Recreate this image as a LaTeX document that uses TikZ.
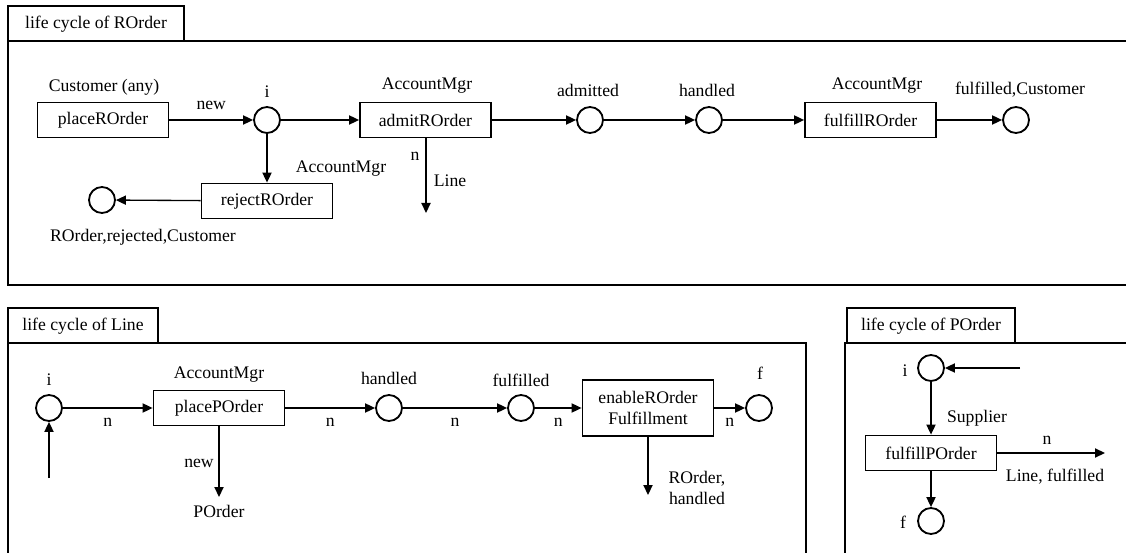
\documentclass[tikz,border=0pt]{standalone}
\usepackage{fontspec}
\setmainfont{Liberation Serif}
\usetikzlibrary{arrows.meta}
\begin{document}
\begin{tikzpicture}[x=0.6pt,y=-0.6pt,
  every node/.style={font=\fontsize{10.6}{12.5}\selectfont, inner sep=0pt},
  frame/.style={draw, line width=1.1pt},
  trans/.style={draw, line width=1.1pt, minimum width=78.6pt, minimum height=21pt, fill=white},
  place/.style={draw, circle, line width=1.1pt, minimum size=15.6pt, fill=white},
  arc/.style={line width=0.8pt, -{Triangle[length=6pt,width=5.5pt]}},
  lbl/.style={}]
\useasboundingbox (0,0) rectangle (1126,553);
\clip (0,0) rectangle (1126,553);

% ---------- life cycle of ROrder ----------
\draw[frame] (8,41) rectangle (1150,285);
\draw[frame] (8,6) rectangle (184,41);
\node (t1) at (96,24) {life cycle of ROrder};

\node[trans] (placeR) at (103,120) {placeROrder};
\node (custany) at (104,87) {Customer (any)};
\node[place] (ri) at (267,120) {};
\node (rilbl) at (267,92) {i};
\node[trans] (admit) at (425.5,120) {admitROrder};
\node (am1) at (427,86) {AccountMgr};
\node[place] (radm) at (590,120) {};
\node (radml) at (588,90) {admitted};
\node[place] (rhand) at (709,120) {};
\node (rhandl) at (707,90) {handled};
\node[trans] (fulR) at (870.5,120) {fulfillROrder};
\node (am2) at (877,86) {AccountMgr};
\node[place] (rful) at (1016,120) {};
\node (rfull) at (1020,90) {fulfilled,Customer};
\node[trans] (reject) at (267,201) {rejectROrder};
\node (am3) at (341,169) {AccountMgr};
\node[place] (rrej) at (102,200) {};
\node (rrejl) at (143,237) {ROrder,rejected,Customer};
\coordinate (lineout) at (426,213);

\draw[arc] (placeR) -- node[above=5.5pt] (newl) {new} (ri);
\draw[arc] (ri) -- (admit);
\draw[arc] (admit) -- (radm);
\draw[arc] (radm) -- (rhand);
\draw[arc] (rhand) -- (fulR);
\draw[arc] (fulR) -- (rful);
\draw[arc] (ri) -- (reject);
\draw[arc] (reject) -- (rrej);
\draw[arc] (admit.south -| lineout) -- (lineout);
\node (nl1) at (415,156) {n};
\node (linel) at (450,181) {Line};

% ---------- life cycle of Line ----------
\draw[frame] (8,343) rectangle (806,600);
\draw[frame] (8,308) rectangle (158,343);
\node (t2) at (83,326) {life cycle of Line};

\node[place] (li) at (49,408) {};
\node (lil) at (49,380) {i};
\coordinate (lin) at (49,478);
\node[trans] (placeP) at (219,408) {placePOrder};
\node (am4) at (219,375) {AccountMgr};
\coordinate (pout) at (219,497);
\node (newl2) at (199,463) {new};
\node (porderl) at (219,511) {POrder};
\node[place] (lh) at (389,408) {};
\node (lhl) at (389,378) {handled};
\node[place] (lfu) at (521,408) {};
\node (lful) at (521,380) {fulfilled};
\node[trans, minimum height=33.6pt, align=center] (enable) at (648,408) {enableROrder\\Fulfillment};
\coordinate (eout) at (648,495);
\node[align=center] (rohl) at (697,488) {ROrder,\\handled};
\node[place] (lf) at (759,408) {};
\node (lfl) at (760,373) {f};

\draw[arc] (lin) -- (li);
\draw[arc] (li) -- node[below=6pt] (n1) {n} (placeP);
\draw[arc] (placeP) -- (pout);
\draw[arc] (placeP) -- node[below=6pt] (n2) {n} (lh);
\draw[arc] (lh) -- node[below=6pt] (n3) {n} (lfu);
\draw[arc] (lfu) -- node[below=6pt] (n4) {n} (enable);
\draw[arc] (enable) -- (eout);
\draw[arc] (enable) -- node[below=6pt] (n5) {n} (lf);

% ---------- life cycle of POrder ----------
\draw[frame] (845,343) rectangle (1150,600);
\draw[frame] (847,308) rectangle (1015,343);
\node (t3) at (931,326) {life cycle of POrder};

\node[place] (pi) at (931,368) {};
\node (pil) at (905,371) {i};
\coordinate (pin) at (1020,368);
\node[trans] (fulP) at (931,453) {fulfillPOrder};
\node (supl) at (977,418) {Supplier};
\coordinate (pright) at (1105,453);
\node (n6) at (1047,440) {n};
\node (lfl2) at (1055,477) {Line, fulfilled};
\node[place] (pf) at (931,521) {};
\node (pfl) at (903,522) {f};

\draw[arc] (pin) -- (pi);
\draw[arc] (pi) -- (fulP);
\draw[arc] (fulP) -- (pright);
\draw[arc] (fulP) -- (pf);
\end{tikzpicture}
\end{document}
